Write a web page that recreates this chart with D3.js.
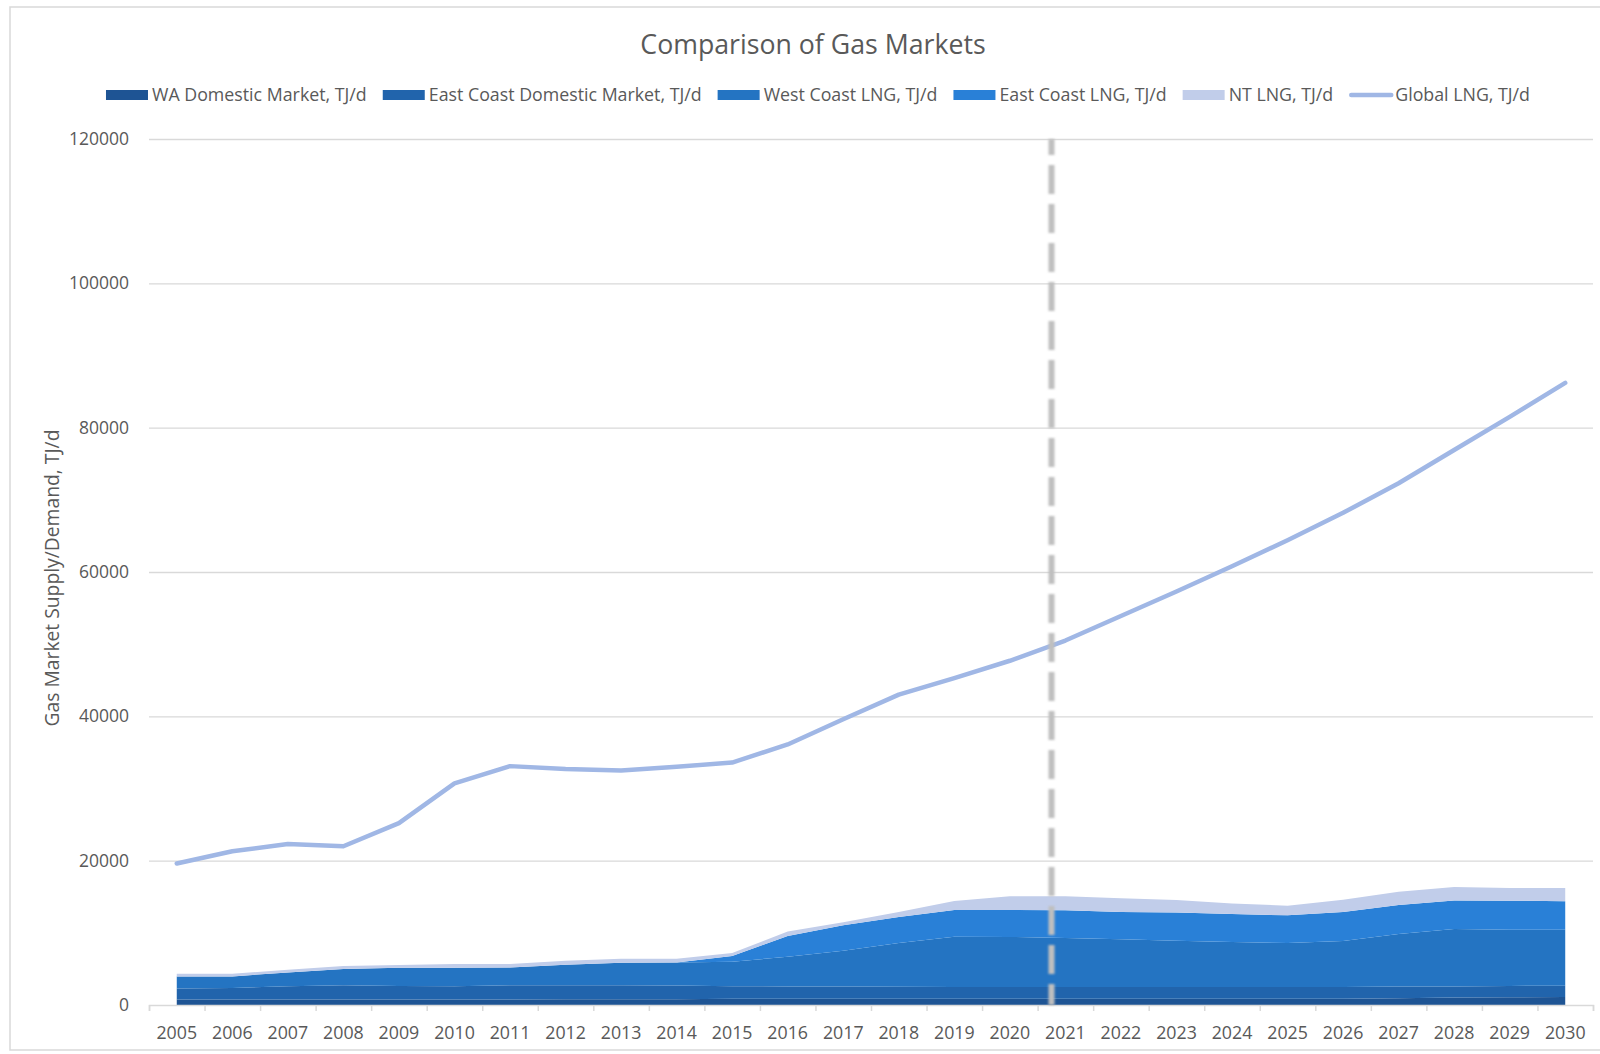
<!DOCTYPE html>
<html>
<head>
<meta charset="utf-8">
<script src="https://cdn.jsdelivr.net/npm/d3@7"></script>
<style>
  html, body { margin: 0; padding: 0; background: #ffffff; }
  svg { display: block; font-family: "Open Sans", "Noto Sans", sans-serif; }
</style>
</head>
<body>
<svg id="chart" width="1600" height="1054"></svg>
<script>
// Years on the category axis
const years = [2005, 2006, 2007, 2008, 2009, 2010, 2011, 2012, 2013, 2014, 2015, 2016, 2017,
               2018, 2019, 2020, 2021, 2022, 2023, 2024, 2025, 2026, 2027, 2028, 2029, 2030];

// Stacked market volumes, TJ/d
const waDomestic = [750, 750, 750, 750, 750, 750, 750, 800, 800, 800, 870, 870, 870,
                    870, 870, 870, 870, 870, 870, 870, 870, 870, 950, 1050, 1080, 1100];
const eastCoastDomestic = [1550, 1600, 1850, 2000, 1900, 1850, 2000, 1950, 1950, 1900, 1730, 1710, 1710,
                           1650, 1630, 1630, 1630, 1630, 1630, 1630, 1630, 1630, 1600, 1530, 1570, 1570];
const westCoastLng = [1660, 1610, 1920, 2240, 2520, 2570, 2460, 2840, 3110, 3200, 3400, 4090, 4950,
                      6070, 6970, 6930, 6790, 6620, 6410, 6230, 6090, 6370, 7290, 7950, 7790, 7770];
const eastCoastLng = [0, 0, 0, 0, 0, 0, 0, 0, 0, 0, 790, 2900, 3510,
                      3600, 3700, 3740, 3830, 3770, 3920, 3880, 3830, 4020, 4030, 3960, 4020, 3920];
const ntLng = [370, 370, 375, 415, 375, 510, 470, 550, 550, 510, 420, 600, 420,
               690, 1250, 1890, 1940, 1890, 1720, 1470, 1340, 1700, 1830, 1860, 1760, 1860];

// Global LNG trade, TJ/d
const globalLng = [19600, 21300, 22300, 22000, 25200, 30700, 33100, 32700, 32500, 33000, 33600, 36100, 39600,
                   43000, 45300, 47700, 50500, 53900, 57300, 60800, 64400, 68200, 72300, 76900, 81500, 86200];

// Value-axis ticks
const yTicks = [0, 20000, 40000, 60000, 80000, 100000, 120000];

// Start of the forecast period (fractional year)
const forecastStart = 2020.75;

const seriesNames = ["WA Domestic Market, TJ/d", "East Coast Domestic Market, TJ/d",
                     "West Coast LNG, TJ/d", "East Coast LNG, TJ/d", "NT LNG, TJ/d"];
const lineName = "Global LNG, TJ/d";

const colors = ["#1e5494", "#2164ac", "#2474c2", "#2980d7", "#c1cdea"];
const lineColor = "#a0b7e5";
const textColor = "#595959";
const gridColor = "#d9d9d9";

const svg = d3.select("#chart");
const W = 1600, H = 1054;
const plot = { left: 149, right: 1593, top: 139, bottom: 1005 };

// chart frame
svg.append("rect")
  .attr("x", 10).attr("y", 7)
  .attr("width", W + 10).attr("height", 1043)
  .attr("fill", "#ffffff")
  .attr("stroke", gridColor).attr("stroke-width", 1.5);

// scales
const x = d3.scaleBand().domain(years).range([plot.left, plot.right]).padding(0);
const xIdx = d3.scaleLinear().domain([0, years.length]).range([plot.left, plot.right]);
const xYear = d3.scaleLinear()
  .domain([years[0], years[years.length - 1]])
  .range([x(years[0]) + x.bandwidth() / 2, x(years[years.length - 1]) + x.bandwidth() / 2]);
const y = d3.scaleLinear().domain([0, 120000]).range([plot.bottom, plot.top]);

// gridlines
const grid = svg.append("g")
  .attr("transform", `translate(${plot.left},0)`)
  .call(d3.axisLeft(y).tickValues(yTicks.filter(d => d > 0)).tickSize(-(plot.right - plot.left)).tickFormat(""));
grid.select(".domain").remove();
grid.selectAll(".tick line").attr("stroke", gridColor).attr("stroke-width", 1.3);

// y tick labels
const yAxis = svg.append("g")
  .attr("transform", `translate(${plot.left - 17},0)`)
  .call(d3.axisLeft(y).tickValues(yTicks).tickSize(0).tickFormat(d3.format("d")));
yAxis.select(".domain").remove();
yAxis.selectAll("text")
  .attr("fill", textColor)
  .style("font-size", "17.5px")
  .style("font-family", "\"Open Sans\", sans-serif");

// stacked areas
const table = years.map((yr, i) => ({
  year: yr,
  s0: waDomestic[i], s1: eastCoastDomestic[i], s2: westCoastLng[i], s3: eastCoastLng[i], s4: ntLng[i]
}));
const keys = ["s0", "s1", "s2", "s3", "s4"];
const stacked = d3.stack().keys(keys)(table);
const area = d3.area()
  .x(d => x(d.data.year) + x.bandwidth() / 2)
  .y0(d => y(d[0]))
  .y1(d => y(d[1]));
svg.append("g").selectAll("path")
  .data(stacked)
  .join("path")
  .attr("d", area)
  .attr("fill", (d, i) => colors[i]);

// x axis line and tick marks at category boundaries
const xTicks = svg.append("g")
  .attr("transform", `translate(0,${plot.bottom})`)
  .call(d3.axisBottom(xIdx).tickValues(d3.range(years.length + 1)).tickSize(6).tickFormat(""));
xTicks.select(".domain").attr("stroke", gridColor).attr("stroke-width", 1.5);
xTicks.selectAll(".tick line").attr("stroke", gridColor).attr("stroke-width", 1.5);

// x labels
const xLabels = svg.append("g")
  .attr("transform", `translate(0,${plot.bottom + 18})`)
  .call(d3.axisBottom(x).tickSize(0));
xLabels.select(".domain").remove();
xLabels.selectAll("text")
  .attr("fill", textColor)
  .style("font-size", "17.8px")
  .style("font-family", "\"Open Sans\", sans-serif");

// global LNG line
const line = d3.line()
  .x((d, i) => x(years[i]) + x.bandwidth() / 2)
  .y(d => y(d));
svg.append("path")
  .datum(globalLng)
  .attr("d", line)
  .attr("fill", "none")
  .attr("stroke", lineColor)
  .attr("stroke-width", 4.5)
  .attr("stroke-linejoin", "round")
  .attr("stroke-linecap", "round");

// forecast divider
const defs = svg.append("defs");
defs.append("filter").attr("id", "soft")
  .attr("filterUnits", "userSpaceOnUse")
  .attr("x", 0).attr("y", 0).attr("width", W).attr("height", H)
  .append("feGaussianBlur").attr("stdDeviation", 0.8);
svg.append("line")
  .attr("x1", xYear(forecastStart)).attr("x2", xYear(forecastStart))
  .attr("y1", y(120000)).attr("y2", y(0))
  .attr("stroke", "#bfbfbf")
  .attr("stroke-width", 6)
  .attr("stroke-dasharray", "29 10")
  .attr("stroke-dashoffset", 13)
  .attr("filter", "url(#soft)");

// title
svg.append("text")
  .attr("x", 813).attr("y", 54)
  .attr("text-anchor", "middle")
  .attr("fill", textColor)
  .style("font-size", "26.7px")
  .text("Comparison of Gas Markets");

// y-axis title
svg.append("text")
  .attr("transform", `translate(59,${(plot.top + plot.bottom) / 2 + 6}) rotate(-90)`)
  .attr("text-anchor", "middle")
  .attr("fill", textColor)
  .style("font-size", "19.3px")
  .text("Gas Market Supply/Demand, TJ/d");

// legend
const legend = svg.append("g");
const items = seriesNames.map((n, i) => ({ name: n, color: colors[i], type: "area" }))
  .concat([{ name: lineName, color: lineColor, type: "line" }]);
const swW = 42, swGap = 4, itemGap = 16, legY = 95;
let cursor = 0;
items.forEach(it => {
  const g = legend.append("g");
  if (it.type === "area") {
    g.append("rect").attr("x", 0).attr("y", legY - 5).attr("width", swW).attr("height", 10).attr("fill", it.color);
  } else {
    g.append("line").attr("x1", 2).attr("x2", swW).attr("y1", legY).attr("y2", legY)
      .attr("stroke", it.color).attr("stroke-width", 4.5).attr("stroke-linecap", "round");
  }
  const t = g.append("text")
    .attr("x", swW + swGap).attr("y", legY + 6)
    .attr("fill", textColor)
    .style("font-size", "17.8px")
    .text(it.name);
  const w = swW + swGap + t.node().getComputedTextLength();
  g.attr("transform", `translate(${cursor},0)`);
  cursor += w + itemGap;
});
const total = cursor - itemGap;
legend.attr("transform", `translate(${818 - total / 2},0)`);
</script>
</body>
</html>
